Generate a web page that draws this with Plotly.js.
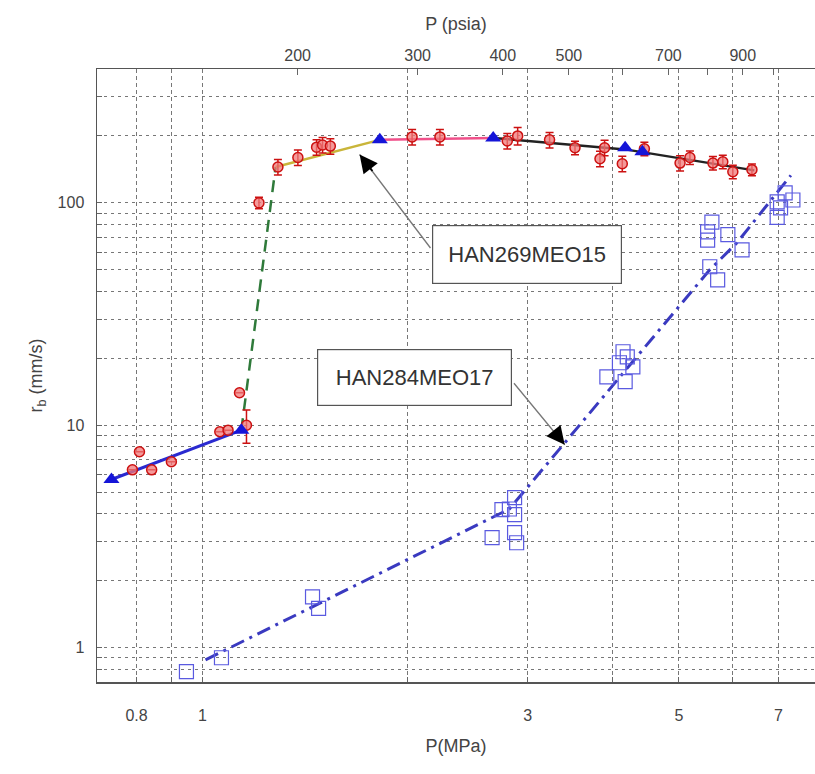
<!DOCTYPE html>
<html><head><meta charset="utf-8">
<script src="https://cdn.plot.ly/plotly-3.0.1.min.js"></script>
<style>html,body{margin:0;padding:0;background:#fff}#chart{width:815px;height:774px}</style>
</head><body><div id="chart"></div>
<script>
// ---- HAN269MEO15 measured burning rates (P in MPa, rb in mm/s) ----
const han269P = [0.789,0.808,0.842,0.900,1.06,1.09,1.133,1.16,1.21,1.29,1.38,1.47,1.50,1.54,2.03,2.23,2.80,2.90,3.23,3.52,3.83,3.89,4.13,4.45,5.02,5.19,5.61,5.80,6.00,6.40];
const han269R = [6.3,7.6,6.3,6.85,9.35,9.5,14.0,10.0,100,145,160,178,182,180,198,198,190,200,192,177,158,177,150,175,151,160,151,153,138,141];
const han269ErrPct = [0,0,0,0,0,0,0,17,6,8,8,8,8,8,8,8,8,9,8,7,8,8,8,7,8,7,7,7,7,6];

// ---- HAN269MEO15 fitted segments ----
const fitBlueP = [0.735,1.14],  fitBlueR = [5.7,9.5];
const fitGreenP = [1.14,1.28],  fitGreenR = [9.5,145];
const fitYellowP = [1.28,1.82], fitYellowR = [145,192];
const fitPinkP = [1.82,2.67],   fitPinkR = [192,196];
const fitBlackP = [2.67,4.17,6.45], fitBlackR = [196,174,140];
const triP = [0.735,1.14,1.82,2.67,4.17,4.42];
const triR = [5.7,9.5,192,196,177,170];

// ---- HAN284MEO17 measured burning rates ----
const han284P = [0.947,1.066,1.45,1.48,2.66,2.75,2.82,2.87,2.87,2.87,2.89,3.92,4.09,4.14,4.20,4.28,4.17,5.51,5.51,5.59,5.90,6.19,5.55,5.70,6.97,7.05,6.97,7.16,7.35];
const han284R = [0.78,0.90,1.69,1.50,3.12,4.17,4.2,4.72,3.96,3.29,2.96,16.5,19.1,21.4,20.3,18.3,15.7,74,68,82,72,61.5,51.6,45,101,95,86,111,103];
const fit284P = [1.01,2.82,4.24,5.55,6.08,7.3];
const fit284R = [0.88,4.2,18.7,50,66,133];

// ---- axes ----
const xGrid = [0.7,0.8,0.9,1,2,3,4,5,6,7];
const xLabels = ['','0.8','','1','','3','','5','','7'];
const yGrid = [0.7,0.8,0.9,1,2,3,4,5,6,7,8,9,10,20,30,40,50,60,70,80,90,100,200,300,400];
const yLabels = ['','','','1','','','','','','','','','10','','','','','','','','','100','','',''];
const psiaGrid = [200,300,400,500,600,700,800,900,1000];
const psiaLabels = ['200','300','400','500','','700','','900',''];
const MPA_TO_PSIA = 145.038;
const xMin = 0.7, xMax = 7.92, yMin = 0.7, yMax = 400;

const errArr = han269R.map((r,i)=>r*han269ErrPct[i]/100);

const traces = [
  {x: fitBlueP, y: fitBlueR, mode:'lines', line:{color:'#2a2ad0', width:3}, hoverinfo:'skip'},
  {x: fitGreenP, y: fitGreenR, mode:'lines', line:{color:'#2f7a3a', width:2.5, dash:'12px,8px'}, hoverinfo:'skip'},
  {x: fitYellowP, y: fitYellowR, mode:'lines', line:{color:'#c9b53a', width:2.5}, hoverinfo:'skip'},
  {x: fitPinkP, y: fitPinkR, mode:'lines', line:{color:'#f0508a', width:2.5}, hoverinfo:'skip'},
  {x: fitBlackP, y: fitBlackR, mode:'lines', line:{color:'#222222', width:2.5}, hoverinfo:'skip'},
  {x: fit284P, y: fit284R, mode:'lines', line:{color:'#3a3ac0', width:3, dash:'14px,6px,3px,6px'}, hoverinfo:'skip'},
  {x: han284P, y: han284R, mode:'markers', name:'HAN284MEO17',
   marker:{symbol:'square-open', size:14, color:'#5a5ae0', line:{width:1.2}}},
  {x: han269P, y: han269R, mode:'markers', name:'HAN269MEO15',
   marker:{symbol:'circle', size:10, color:'rgba(240,120,120,0.75)', line:{color:'#cc1111', width:1.5}},
   error_y:{type:'data', array: errArr, visible:true, color:'#cc1111', thickness:1.5, width:4}},
  {x: triP, y: triR, mode:'markers', marker:{symbol:'triangle-up', size:14, color:'#1515d8'}},
  {x: [], y: [], xaxis:'x2', mode:'markers', hoverinfo:'skip'}
];

const fontFam = 'Liberation Sans, Arial, sans-serif';
const tickFont = {family: fontFam, size: 16, color: '#444'};
const titleFont = {family: fontFam, size: 18, color: '#444'};

const layout = {
  width: 815, height: 774,
  margin: {l: 97, r: 0, t: 69, b: 92},
  paper_bgcolor: '#fff', plot_bgcolor: '#fff',
  showlegend: false,
  font: {family: fontFam},
  xaxis: {
    type: 'log', range: [Math.log10(xMin), Math.log10(xMax)],
    tickmode: 'array', tickvals: xGrid, ticktext: xLabels,
    showgrid: true, gridcolor: '#777', griddash: '4px,3px', gridwidth: 1,
    showline: true, linecolor: '#555', linewidth: 1.5,
    ticks: 'inside', ticklen: 5, tickcolor: '#666',
    tickfont: tickFont, ticklabelstandoff: 18, zeroline: false,
    title: {text: 'P(MPa)', font: titleFont, standoff: 16}
  },
  xaxis2: {
    type: 'log', overlaying: 'x', side: 'top', anchor: 'y',
    range: [Math.log10(xMin*MPA_TO_PSIA), Math.log10(xMax*MPA_TO_PSIA)],
    tickmode: 'array', tickvals: psiaGrid, ticktext: psiaLabels,
    showgrid: false, showline: true, linecolor: '#555', linewidth: 1.5,
    ticks: 'inside', ticklen: 6, tickcolor: '#666',
    tickfont: tickFont, zeroline: false,
    title: {text: 'P (psia)', font: titleFont, standoff: 12}
  },
  yaxis: {
    type: 'log', range: [Math.log10(yMin), Math.log10(yMax)],
    tickmode: 'array', tickvals: yGrid, ticktext: yLabels,
    showgrid: true, gridcolor: '#777', griddash: '3px,4px', gridwidth: 1,
    showline: true, linecolor: '#555', linewidth: 1.5,
    ticks: 'inside', ticklen: 5, tickcolor: '#666',
    tickfont: tickFont, ticklabelstandoff: 8, zeroline: false,
    title: {text: 'r<sub>b</sub> (mm/s)', font: titleFont, standoff: 10}
  },
  annotations: [
    // label boxes
    {xref:'paper', yref:'paper', x:(527-97)/718, y:(682-254.5)/613, xanchor:'center', yanchor:'middle',
     text:'HAN269MEO15', showarrow:false, font:{family:fontFam, size:22, color:'#333'},
     bgcolor:'#fff', bordercolor:'#555', borderwidth:1.2, borderpad:1, width:186, height:55},
    {xref:'paper', yref:'paper', x:(414-97)/718, y:(682-377)/613, xanchor:'center', yanchor:'middle',
     text:'HAN284MEO17', showarrow:false, font:{family:fontFam, size:22, color:'#333'},
     bgcolor:'#fff', bordercolor:'#555', borderwidth:1.2, borderpad:1, width:191, height:53},
    // arrow shafts
    {xref:'x', yref:'y', x:Math.log10(1.70), y:Math.log10(165), ax:72, ay:95, text:'',
     showarrow:true, arrowhead:0, arrowwidth:1.3, arrowcolor:'#777', standoff:0},
    {xref:'x', yref:'y', x:Math.log10(3.40), y:Math.log10(8.17), ax:-52, ay:-63, text:'',
     showarrow:true, arrowhead:0, arrowwidth:1.3, arrowcolor:'#777', standoff:0},
    // arrow heads
    {xref:'x', yref:'y', x:Math.log10(1.70), y:Math.log10(165), ax:14, ay:18, text:'',
     showarrow:true, arrowhead:2, arrowwidth:2, arrowsize:1.8, arrowcolor:'#000', standoff:0},
    {xref:'x', yref:'y', x:Math.log10(3.40), y:Math.log10(8.17), ax:-12, ay:-15, text:'',
     showarrow:true, arrowhead:2, arrowwidth:2, arrowsize:1.8, arrowcolor:'#000', standoff:0}
  ]
};

Plotly.newPlot('chart', traces, layout, {displayModeBar:false, staticPlot:true});
</script>
</body></html>
